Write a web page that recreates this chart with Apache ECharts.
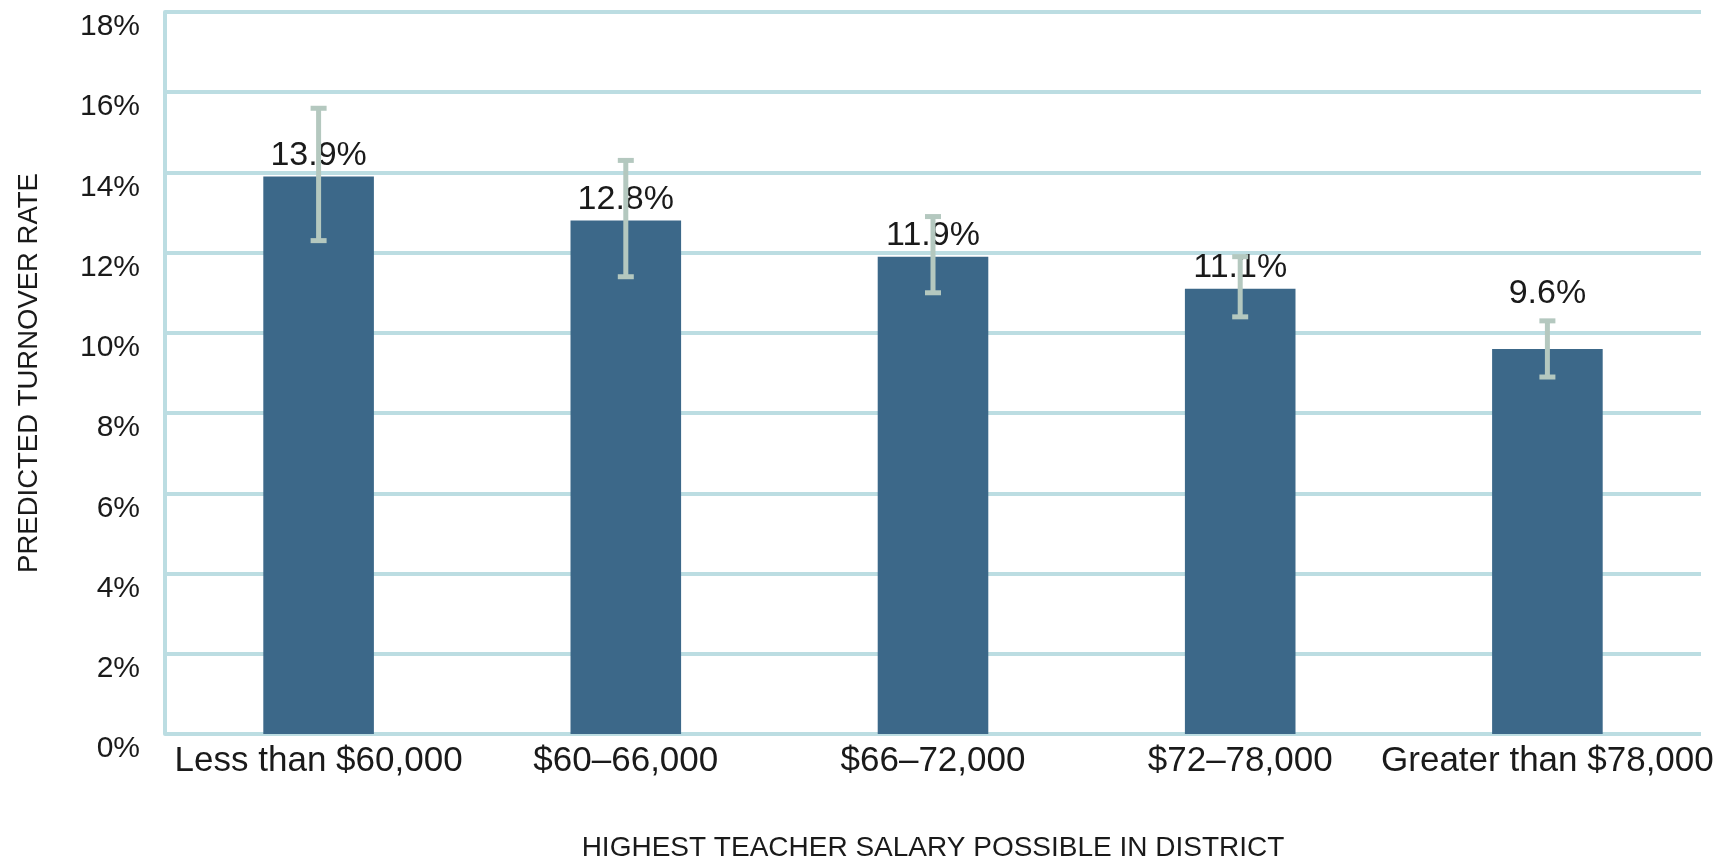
<!DOCTYPE html>
<html>
<head>
<meta charset="utf-8">
<title>Predicted turnover rate</title>
<script src="https://cdn.jsdelivr.net/npm/echarts@6/dist/echarts.min.js"></script>
<style>
	html, body { margin: 0; padding: 0; background: #fff; }
	#chart { width: 1735px; height: 862px; }
</style>
</head>
<body>
<div id="chart"></div>
<script>
// 数据
var categories = ['Less than $60,000', '$60\u201366,000', '$66\u201372,000', '$72\u201378,000', 'Greater than $78,000'];
var turnover = [13.9, 12.8, 11.9, 11.1, 9.6];
var errLow = [12.3, 11.4, 11.0, 10.4, 8.9];
var errHigh = [15.6, 14.3, 12.9, 11.9, 10.3];
var yTicks = [0, 2, 4, 6, 8, 10, 12, 14, 16, 18];

var gridColor = '#bcdde2';
var barColor = '#3c6889';
var errColor = '#b4c8bf';
var textColor = '#1a1a1a';
var font = '"Liberation Sans", Arial, sans-serif';

var errData = [];
var barData = [];
for (var i = 0; i < categories.length; i++) {
	errData.push([i, errLow[i], errHigh[i]]);
	var item = { value: turnover[i] };
	//最后一个标签在误差线上方
	if (i == categories.length - 1) {
		item.label = { distance: 38 };
	}
	barData.push(item);
}

var myChart = echarts.init(document.getElementById('chart'));
var option = {
	animation: false,
	backgroundColor: '#fff',
	grid: { left: 165, right: 34, top: 12, bottom: 128, containLabel: false, outerBoundsMode: 'none' },
	xAxis: {
		type: 'category',
		data: categories,
		name: 'HIGHEST TEACHER SALARY POSSIBLE IN DISTRICT',
		nameLocation: 'middle',
		nameGap: 100,
		nameTextStyle: { fontFamily: font, fontSize: 28, color: textColor },
		axisLine: { show: false },
		axisTick: { show: false },
		axisLabel: { fontFamily: font, fontSize: 35, color: textColor, margin: 10, interval: 0 }
	},
	yAxis: {
		type: 'value',
		min: yTicks[0],
		max: yTicks[yTicks.length - 1],
		interval: 2,
		name: 'PREDICTED TURNOVER RATE',
		nameLocation: 'middle',
		nameGap: 122,
		nameTextStyle: { fontFamily: font, fontSize: 27.5, color: textColor },
		axisLine: { show: true, lineStyle: { color: gridColor, width: 4 } },
		axisTick: { show: false },
		splitLine: { show: true, lineStyle: { color: gridColor, width: 4 } },
		axisLabel: {
			fontFamily: font, fontSize: 30, lineHeight: 30, color: textColor, margin: 25,
			formatter: function(v) { return '\n' + v + '%'; }
		}
	},
	series: [{
		type: 'bar',
		data: barData,
		barWidth: '36%',
		itemStyle: { color: barColor },
		label: {
			show: true,
			position: 'top',
			distance: 4,
			fontFamily: font,
			fontSize: 34,
			color: textColor,
			formatter: function(p) { return p.value.toFixed(1) + '%'; }
		},
		z: 2
	}, {
		//误差线
		type: 'custom',
		data: errData,
		z: 10,
		renderItem: function(params, api) {
			var lo = api.coord([api.value(0), api.value(1)]);
			var hi = api.coord([api.value(0), api.value(2)]);
			var half = 8;
			var st = { stroke: errColor, lineWidth: 5 };
			return {
				type: 'group',
				children: [
					{ type: 'line', shape: { x1: lo[0], y1: lo[1], x2: hi[0], y2: hi[1] }, style: st },
					{ type: 'line', shape: { x1: hi[0] - half, y1: hi[1], x2: hi[0] + half, y2: hi[1] }, style: st },
					{ type: 'line', shape: { x1: lo[0] - half, y1: lo[1], x2: lo[0] + half, y2: lo[1] }, style: st }
				]
			};
		}
	}]
};
myChart.setOption(option);
</script>
</body>
</html>
